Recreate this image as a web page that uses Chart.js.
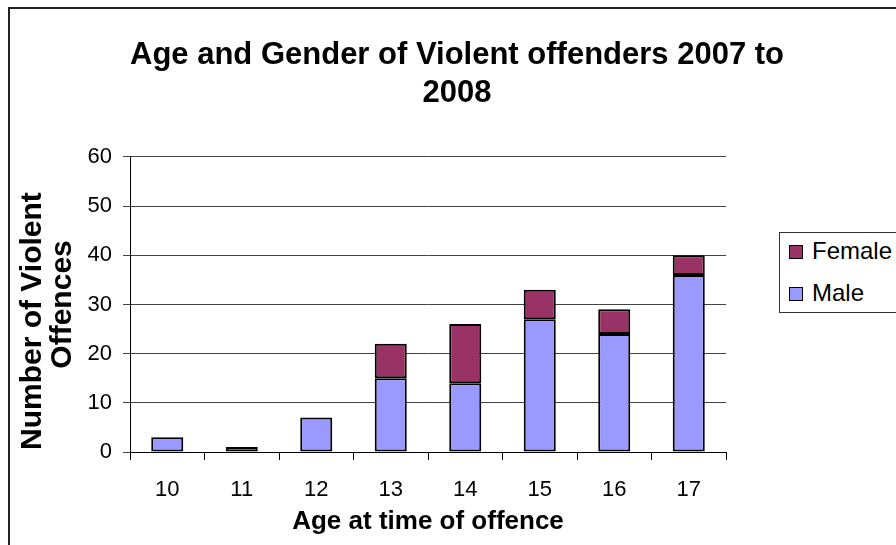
<!DOCTYPE html>
<html>
<head>
<meta charset="utf-8">
<script src="https://cdn.jsdelivr.net/npm/chart.js@4.4.0/dist/chart.umd.min.js"></script>
<style>
    body { margin: 0; background: #fff; }
    #frame { position: absolute; left: 8px; top: 7px; width: 900px; height: 560px; border: 2px solid #222; box-sizing: border-box; }
    #wrap { position: absolute; left: 0; top: 0; width: 896px; height: 545px; }
    #legend { position: absolute; left: 779px; top: 232px; width: 130px; height: 81px; border: 1px solid #333; box-sizing: border-box; background: #fff;
              font-family: 'Liberation Sans', Arial, sans-serif; font-size: 24px; color: #000; }
    .item { position: absolute; left: 9px; height: 28px; line-height: 28px; }
    .box { display: inline-block; width: 12px; height: 12px; border: 1px solid #000; margin-right: 9px; vertical-align: 0px; }
</style>
</head>
<body>
<div id="frame"></div>
<div id="wrap"><canvas id="myChart"></canvas></div>
<div id="legend"></div>
<script>
const ages = ['10', '11', '12', '13', '14', '15', '16', '17'];
const male = [3, 0, 7, 15, 14, 27, 24, 36];
const female = [0, 1, 0, 7, 12, 6, 5, 4];
const seriesNames = ['Male', 'Female'];
const seriesColors = ['#9999FF', '#993366'];

document.addEventListener('DOMContentLoaded', function() {
    mychart();
    mylegend();
});

// no outline on empty segments
function barBorder(c) {
    return c.raw === 0 ? 0 : 2;
}

function mychart() {
    const ctx = document.getElementById('myChart');
    const font = "'Liberation Sans', Arial, sans-serif";
    new Chart(ctx, {
        type: 'bar',
        data: {
            labels: ages,
            datasets: [{
                label: seriesNames[0],
                data: male,
                backgroundColor: seriesColors[0],
                borderColor: '#000',
                borderWidth: barBorder,
                borderSkipped: false,
                barPercentage: 0.43,
                categoryPercentage: 1
            }, {
                label: seriesNames[1],
                data: female,
                backgroundColor: seriesColors[1],
                borderColor: '#000',
                borderWidth: barBorder,
                borderSkipped: false,
                barPercentage: 0.43,
                categoryPercentage: 1
            }]
        },
        options: {
            responsive: true,
            maintainAspectRatio: false,
            animation: false,
            layout: { padding: { left: 18, right: 0, top: 0, bottom: 0 } },
            plugins: {
                legend: { display: false },
                tooltip: { enabled: false },
                title: {
                    display: true,
                    text: ['Age and Gender of Violent offenders 2007 to', '2008'],
                    color: '#000',
                    font: { family: font, size: 31, weight: 'bold', lineHeight: 1.24 },
                    padding: { top: 36, bottom: 44 }
                }
            },
            scales: {
                x: {
                    stacked: true,
                    afterFit: function(scale) { scale.height = 93; },
                    grid: { offset: true, drawOnChartArea: false, drawTicks: true, tickLength: 8, color: '#000' },
                    border: { display: true, color: '#000', width: 1 },
                    ticks: { color: '#000', font: { family: font, size: 22 }, padding: 17 },
                    title: {
                        display: true,
                        text: 'Age at time of offence',
                        color: '#000',
                        font: { family: font, size: 26, weight: 'bold', lineHeight: 1.2 },
                        padding: { top: 0, bottom: 8 }
                    }
                },
                y: {
                    stacked: true,
                    min: 0,
                    max: 60,
                    afterFit: function(scale) { scale.width = 112; },
                    grid: { color: '#444', tickLength: 7, drawTicks: true },
                    border: { display: true, color: '#000', width: 1 },
                    ticks: { stepSize: 10, color: '#000', font: { family: font, size: 22 }, padding: 11 },
                    title: {
                        display: true,
                        text: ['Number of Violent    ', 'Offences'],
                        color: '#000',
                        font: { family: font, size: 30, weight: 'bold', lineHeight: 1.0 },
                        padding: { top: 0, bottom: 0 }
                    }
                },
                side: {
                    type: 'linear',
                    position: 'right',
                    display: true,
                    afterFit: function(scale) { scale.width = 170; },
                    grid: { display: false },
                    border: { display: false },
                    ticks: { display: false }
                }
            }
        }
    });
}

function mylegend() {
    const lg = document.getElementById('legend');
    const tops = [4, 46];
    // Female first, as in the original legend
    [1, 0].forEach(function(i, k) {
        const d = document.createElement('div');
        d.className = 'item';
        d.style.top = tops[k] + 'px';
        d.innerHTML = '<span class="box" style="background:' + seriesColors[i] + '"></span>' + seriesNames[i];
        lg.appendChild(d);
    });
}
</script>
</body>
</html>
